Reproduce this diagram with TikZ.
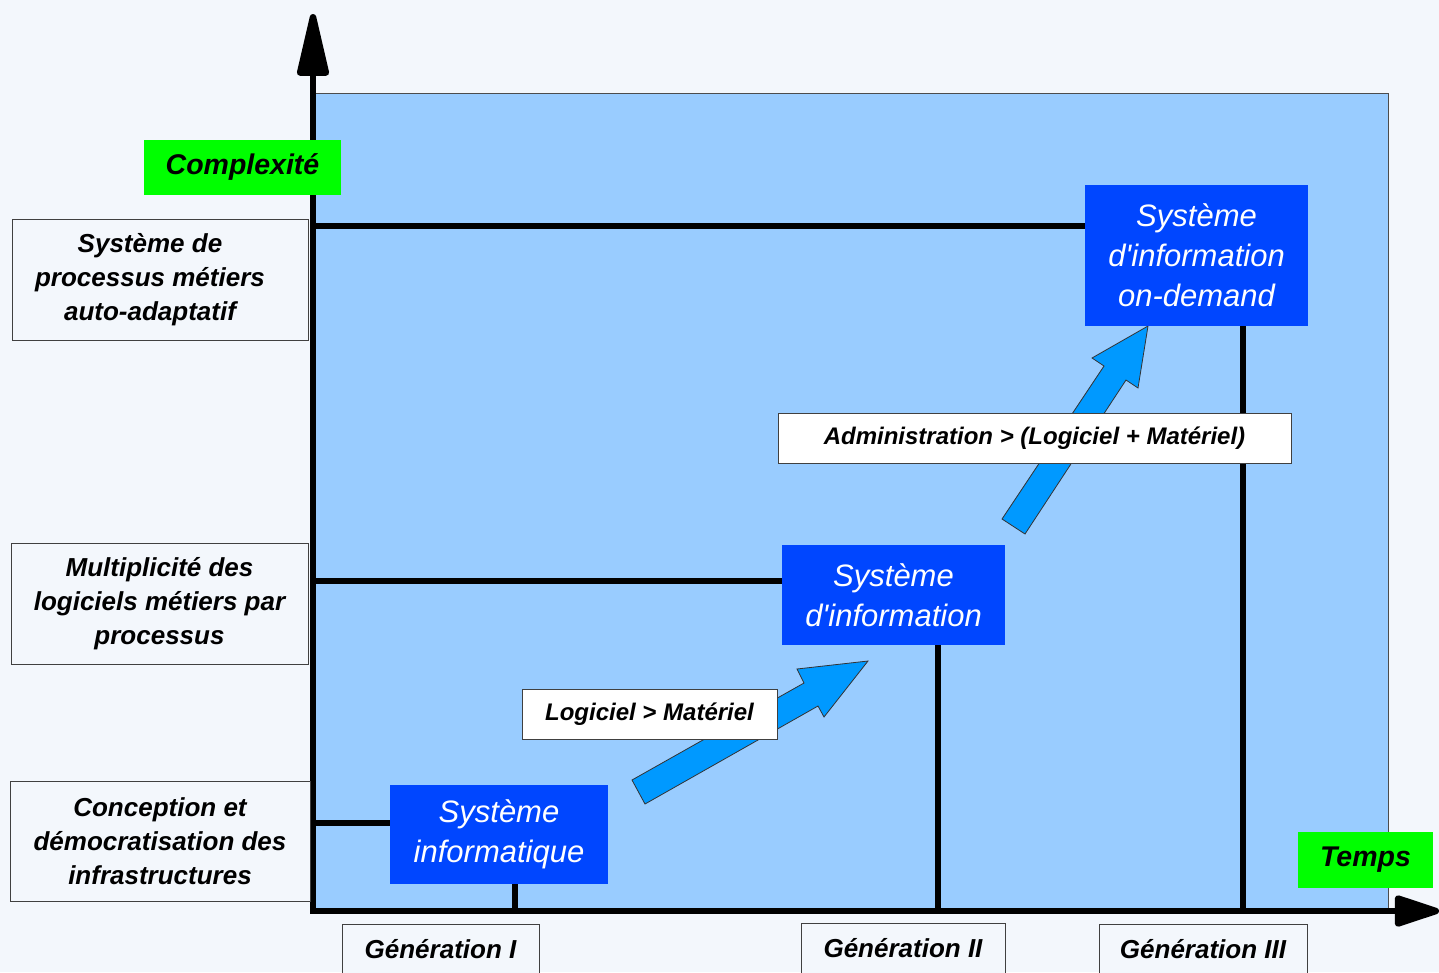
\documentclass[tikz,border=0pt]{standalone}
\usepackage{fontspec}
\setmainfont{Liberation Sans}
\usetikzlibrary{arrows.meta}
\definecolor{fond}{RGB}{243,247,252}
\definecolor{zone}{RGB}{153,204,255}
\definecolor{bleu}{RGB}{0,70,255}
\definecolor{fleche}{RGB}{0,153,255}
\definecolor{vert}{RGB}{0,255,0}
\begin{document}
\begin{tikzpicture}
	[x=1pt,y=-1pt,
	 sys/.style={fill=bleu,text=white,inner sep=0pt,align=center,font=\fontsize{31}{40}\selectfont\itshape},
	 niveau/.style={draw=black!75,fill=fond,line width=0.8pt,inner sep=0pt,align=center,font=\fontsize{26}{34}\selectfont\bfseries\itshape},
	 etiq/.style={draw=black!75,fill=white,line width=0.8pt,inner sep=0pt,font=\fontsize{24}{30}\selectfont\bfseries\itshape},
	 vertbox/.style={fill=vert,inner sep=0pt,font=\fontsize{28.5}{34}\selectfont\bfseries\itshape},
	 axe/.style={line width=6.5pt,line cap=rect},
	 barre/.style={line width=6.5pt},
	 grosse/.style={fill=fleche,draw=black!80,line width=0.8pt,line join=miter}]
    \useasboundingbox (0,0) rectangle (1439,972);
    \fill[fond] (0,0) rectangle (1439,972);
    % zone du graphe
    \fill[zone] (314,93) rectangle (1388,910);
    \draw[black!70,line width=0.8pt] (314,93) rectangle (1388,910);
    % grosses fleches
    \draw[grosse] (632,780) -- (804,683) -- (797,669) -- (868,661) -- (824,717) -- (818,706) -- (645,804) -- cycle;
    \draw[grosse] (1002,519) -- (1104,366) -- (1092,358) -- (1148,326) -- (1138,388) -- (1126,380) -- (1025,534) -- cycle;
    % axes
    \coordinate (o) at (313,911);
    \coordinate (haut) at (313,14);
    \coordinate (droite) at (1439,911);
    \draw[axe,-{Triangle[length=74pt,width=32pt,round]}] (o) -- (haut);
    \draw[axe,-{Triangle[length=52pt,width=32pt,round]}] (o) -- (droite);
    % systemes
    \node[sys,minimum width=218,minimum height=99] (sinf) at (499,834.5) {Système\\informatique};
    \node[sys,minimum width=223,minimum height=100] (sinfo) at (893.5,595) {Système\\d\textquotesingle information};
    \node[sys,minimum width=223,minimum height=141] (sod) at (1196.5,255.5) {Système\\d\textquotesingle information\\on-demand};
    % niveaux
    \node[niveau,minimum width=296,minimum height=121] (n3) at (160,279.5) {Système de\rule{20pt}{0pt}\\processus métiers\rule{20pt}{0pt}\\auto-adaptatif\rule{20pt}{0pt}};
    \node[niveau,minimum width=297,minimum height=121] (n2) at (159.5,603.5) {Multiplicité des\\logiciels métiers par\\processus};
    \node[niveau,minimum width=300,minimum height=120] (n1) at (160,841) {Conception et\\démocratisation des\\infrastructures};
    % generations
    \node[niveau,minimum width=197,minimum height=50] (g1) at (440.5,949) {Génération I};
    \node[niveau,minimum width=204,minimum height=50] (g2) at (903,948) {Génération II};
    \node[niveau,minimum width=208,minimum height=50] (g3) at (1203,949) {Génération III};
    % axes : titres
    \node[vertbox,minimum width=197,minimum height=55] (cx) at (242.5,167.5) {Complexité};
    \node[vertbox,minimum width=135,minimum height=56] (tps) at (1365.5,860) {Temps};
    % liaisons
    \draw[barre] ([yshift=11.5pt]sinf.west) -- ([yshift=11.5pt]sinf.west -| o);
    \draw[barre] ([yshift=14pt]sinfo.west) -- ([yshift=14pt]sinfo.west -| o);
    \draw[barre] ([yshift=29.5pt]sod.west) -- ([yshift=29.5pt]sod.west -| o);
    \draw[barre] ([xshift=16pt]sinf.south) -- ([xshift=16pt]sinf.south |- o);
    \draw[barre] ([xshift=44.5pt]sinfo.south) -- ([xshift=44.5pt]sinfo.south |- o);
    \draw[barre] ([xshift=46.5pt]sod.south) -- ([xshift=46.5pt]sod.south |- o);
    % etiquettes
    \node[etiq,minimum width=255,minimum height=50] (lm) at (649.5,714) {Logiciel > Matériel};
    \node[etiq,minimum width=513,minimum height=50] (adm) at (1034.5,438) {Administration > (Logiciel + Matériel)};
\end{tikzpicture}
\end{document}
